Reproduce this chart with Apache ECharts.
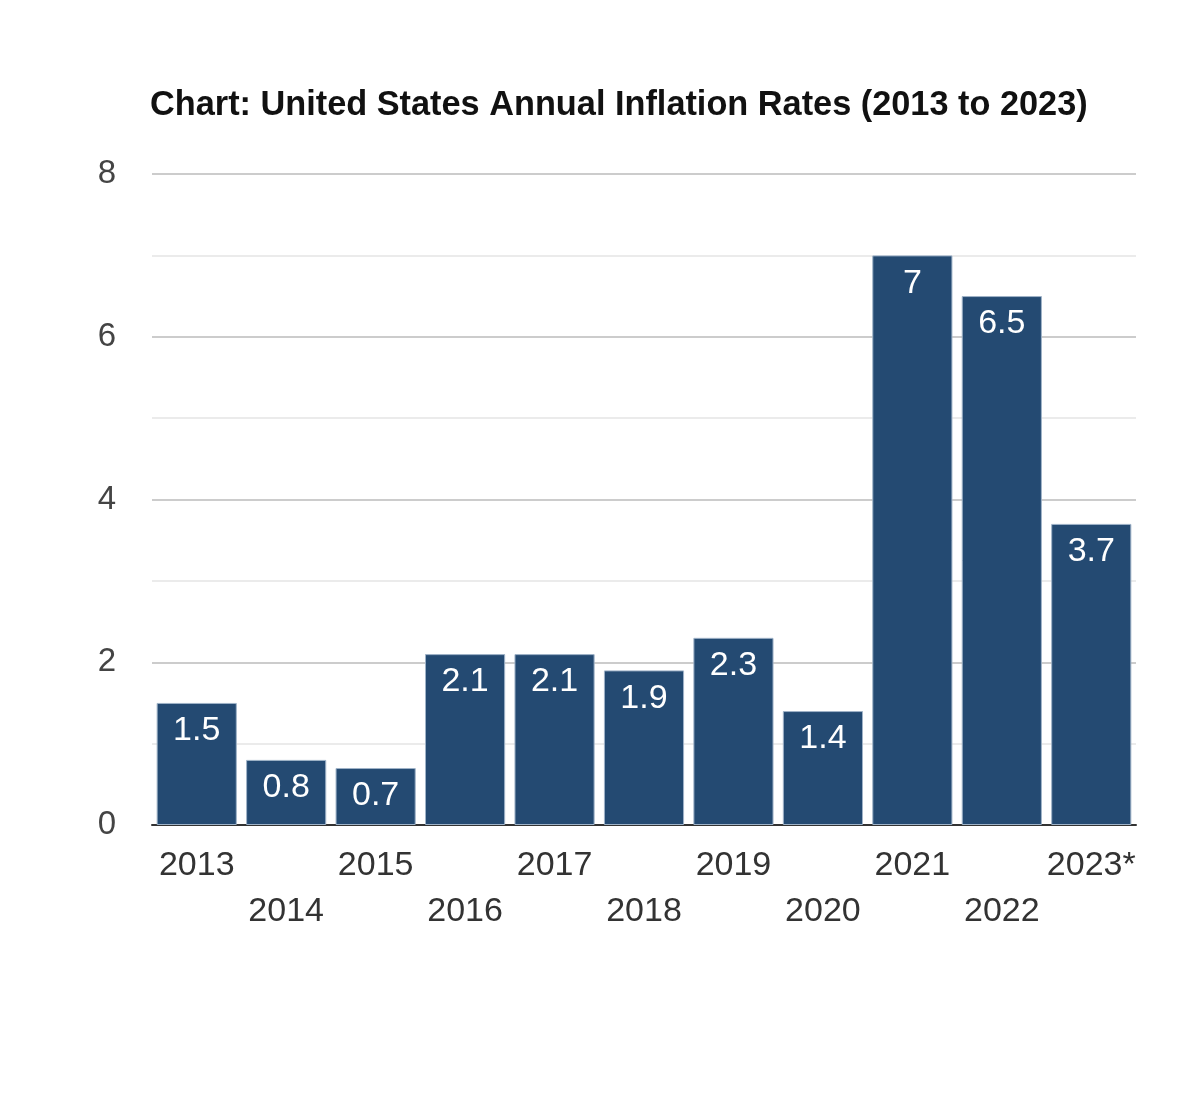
<!DOCTYPE html>
<html>
<head>
<meta charset="utf-8">
<script src="https://cdn.jsdelivr.net/npm/echarts@6/dist/echarts.min.js"></script>
<style>html,body{margin:0;padding:0;background:#fff}#c{width:1200px;height:1113px}</style>
</head>
<body>
<div id="c"></div>
<script>
const categories = ['2013','2014','2015','2016','2017','2018','2019','2020','2021','2022','2023*'];
const inflationRates = [1.5, 0.8, 0.7, 2.1, 2.1, 1.9, 2.3, 1.4, 7, 6.5, 3.7];
const yTicks = [0, 2, 4, 6, 8];

const chart = echarts.init(document.getElementById('c'));
chart.setOption({
  animation: false,
  title: {
    text: 'Chart: United States Annual Inflation Rates (2013 to 2023)',
    left: 145, top: 84,
    textStyle: {fontFamily: 'Liberation Sans, Arial', fontWeight: 'bold', fontSize: 34.3, color: '#111'}
  },
  grid: {left: 152, right: 64, top: 174, bottom: 288, containLabel: false},
  xAxis: {
    type: 'category',
    data: categories,
    axisLine: {show: true, lineStyle: {color: '#333', width: 2}},
    axisTick: {show: false},
    axisLabel: {
      interval: 0, margin: 18, fontSize: 34, color: '#333', fontFamily: 'Liberation Sans, Arial',
      lineHeight: 46,
      formatter: (v, i) => (i % 2 ? '\n' + v : v)
    }
  },
  yAxis: {
    type: 'value',
    min: yTicks[0], max: yTicks[yTicks.length - 1], interval: 2,
    axisLine: {show: false},
    axisTick: {show: false},
    axisLabel: {margin: 36, fontSize: 33, color: '#444', fontFamily: 'Liberation Sans, Arial', padding: [8, 0, 0, 0]},
    splitLine: {lineStyle: {color: '#cccccc', width: 2}},
    minorTick: {show: false, splitNumber: 2},
    minorSplitLine: {show: true, lineStyle: {color: '#ebebeb', width: 2}}
  },
  series: [{
    type: 'bar',
    data: inflationRates,
    barCategoryGap: '10.4%',
    itemStyle: {color: '#244a72', borderColor: '#9fb3c8', borderWidth: 1},
    label: {
      show: true, position: 'insideTop', distance: 11,
      color: '#fff', fontSize: 34, fontFamily: 'Liberation Sans, Arial'
    }
  }]
});
</script>
</body>
</html>
